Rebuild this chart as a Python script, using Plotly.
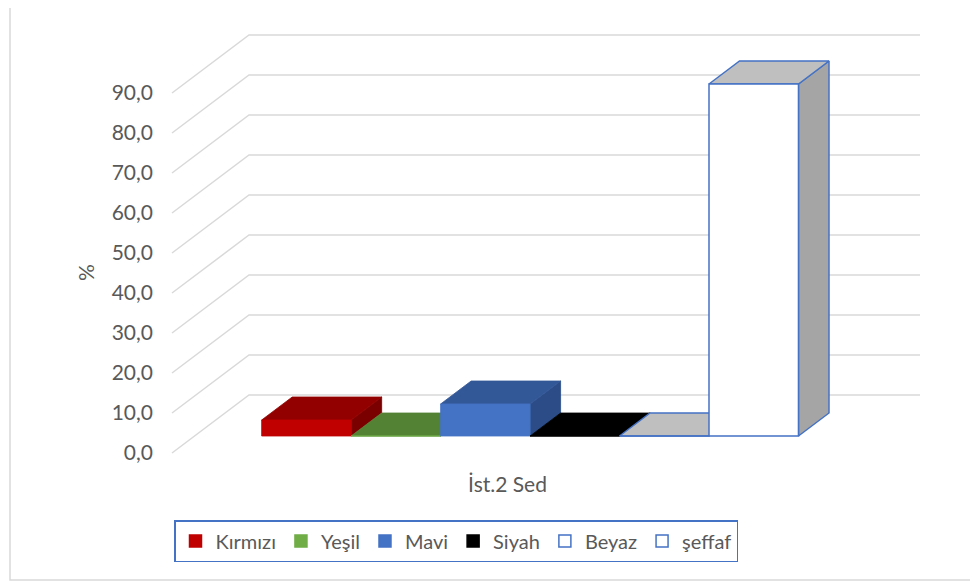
import plotly.graph_objects as go

# ---- data ----
categories = ["İst.2 Sed"]
series_names = ["Kırmızı", "Yeşil", "Mavi", "Siyah", "Beyaz", "şeffaf"]
values = [4.0, 0.0, 8.0, 0.0, 0.0, 88.0]
tick_values = [0, 10, 20, 30, 40, 50, 60, 70, 80, 90]
axis_title = "%"

# ---- styles ----
front_colors = ["#C00000", "#70AD47", "#4472C4", "#000000", "#FFFFFF", "#FFFFFF"]
top_colors = ["#930000", "#548235", "#335898", "#000000", "#BFBFBF", "#BFBFBF"]
side_colors = ["#7A0000", "#44692B", "#2B4C86", "#000000", "#A6A6A6", "#A5A5A5"]
edge_colors = [None, None, None, None, "#4472C4", "#4472C4"]
legend_colors = ["#C00000", "#70AD47", "#4472C4", "#000000", "#FFFFFF", "#FFFFFF"]
TEXT = "#595959"
GRID = "#D9D9D9"
FONT = "Lato"

# ---- layout geometry (pixels, page coordinates; page body has an 8px margin) ----
OFF = 8
WIDTH, HEIGHT = 978 - OFF, 582 - OFF
L, R, T, B = 160 - OFF, 930 - OFF, 20 - OFF, 465 - OFF
PW, PH = R - L, B - T
X_PX = 671.0          # pixels per category unit on the front plane
Y_PX = 4.0            # pixels per value unit
X0_PX, Y0_PX = 172 - OFF, 453 - OFF   # pixel of (x=-0.5, y=0) on the front plane
DEPTH_PX = (77, 58)   # oblique depth offset of the floor
DX = DEPTH_PX[0] / X_PX
DY = DEPTH_PX[1] / Y_PX
xrange = [-0.5 - (X0_PX - L) / X_PX, -0.5 + (R - X0_PX) / X_PX]
yrange = [-(B - Y0_PX) / Y_PX, (Y0_PX - T) / Y_PX]

gap_width = 1.5
n = len(values)
w = 1.0 / (n + gap_width)
d_front, d_back = 17 / 58, 40 / 58

fig = go.Figure()

# gridlines (floor diagonal + back wall)
gx, gy = [], []
for t in tick_values:
    gx += [-0.5, -0.5 + DX, 0.5 + DX, None]
    gy += [t, t + DY, t + DY, None]
fig.add_trace(go.Scatter(x=gx, y=gy, mode="lines", line=dict(color=GRID, width=1.5),
                         hoverinfo="skip", showlegend=False))


def poly(pts, fill, edge, name):
    xs = [p[0] for p in pts] + [pts[0][0]]
    ys = [p[1] for p in pts] + [pts[0][1]]
    if edge:
        line = dict(color=edge, width=1.5)
    else:
        line = dict(color=fill, width=0.8)
    fig.add_trace(go.Scatter(x=xs, y=ys, mode="lines", fill="toself", fillcolor=fill,
                             line=line, name=name, showlegend=False, hoverinfo="skip"))


fx, fy = d_front * DX, d_front * DY
bx, by = d_back * DX, d_back * DY
for i, (name, v) in enumerate(zip(series_names, values)):
    x0 = -0.5 + gap_width / 2 * w + i * w
    x1 = x0 + w
    side = [(x1 + fx, fy), (x1 + bx, by), (x1 + bx, v + by), (x1 + fx, v + fy)]
    top = [(x0 + fx, v + fy), (x1 + fx, v + fy), (x1 + bx, v + by), (x0 + bx, v + by)]
    front = [(x0 + fx, fy), (x1 + fx, fy), (x1 + fx, v + fy), (x0 + fx, v + fy)]
    poly(side, side_colors[i], edge_colors[i], name)
    poly(top, top_colors[i], edge_colors[i], name)
    poly(front, front_colors[i], edge_colors[i], name)

# legend entries
for i, name in enumerate(series_names):
    fig.add_trace(go.Scatter(
        x=[None], y=[None], mode="markers", name=name,
        marker=dict(symbol="square", size=12, color=legend_colors[i],
                    line=dict(color=edge_colors[i] or legend_colors[i], width=1.5)),
    ))


def px_to_paper(px, py):
    return (px - OFF - L) / PW, (B - (py - OFF)) / PH


bx0, by0 = px_to_paper(10, 1)
bx1, by1 = px_to_paper(977, 580)
tx, ty = px_to_paper(85, 273)

fig.update_layout(
    width=WIDTH, height=HEIGHT,
    margin=dict(l=L, r=WIDTH - R, t=T, b=HEIGHT - B),
    paper_bgcolor="white", plot_bgcolor="white",
    separators=",.",
    font=dict(family=FONT, color=TEXT, size=21),
    xaxis=dict(range=xrange, showgrid=False, zeroline=False, showline=False,
               tickmode="array", tickvals=[0], ticktext=categories,
               ticks="", ticklabelstandoff=5, tickfont=dict(size=21), fixedrange=True),
    yaxis=dict(range=yrange, showgrid=False, zeroline=False, showline=False,
               tickmode="array", tickvals=tick_values, tickformat=".1f",
               ticks="", ticklabelstandoff=6, tickfont=dict(size=21), fixedrange=True),
    annotations=[dict(text=axis_title, xref="paper", yref="paper", x=tx, y=ty,
                      xanchor="center", yanchor="middle", textangle=-90, showarrow=False,
                      font=dict(size=21, color=TEXT))],
    legend=dict(orientation="h", xref="container", yref="container",
                x=(456 - OFF) / WIDTH, y=1 - (520 - OFF) / HEIGHT,
                xanchor="center", yanchor="top",
                bordercolor="#4472C4", borderwidth=1.5, bgcolor="white",
                font=dict(size=20, color=TEXT), itemwidth=30, tracegroupgap=0),
    shapes=[dict(type="rect", xref="paper", yref="paper", x0=bx0, y0=by0, x1=bx1, y1=by1,
                 line=dict(color=GRID, width=1.5), layer="below")],
    showlegend=True,
)

fig.write_html("out.html")
